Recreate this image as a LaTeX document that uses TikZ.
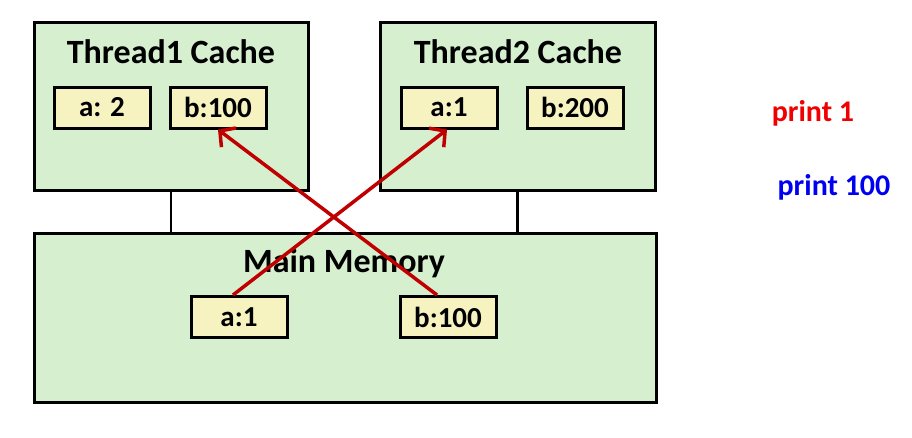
\documentclass[tikz,border=0pt]{standalone}
\usepackage{fontspec}
\setmainfont{Carlito}
\usetikzlibrary{arrows.meta,positioning}
\definecolor{cachegreen}{HTML}{D5EFCF}
\definecolor{cellyellow}{HTML}{F6F3C1}
\definecolor{wirered}{HTML}{C00000}
\definecolor{printred}{HTML}{F00000}
\definecolor{printblue}{HTML}{0000F0}
\tikzset{
  >={Straight Barb[length=11pt,width=24pt]},
  every node/.style={font=\bfseries},
  unit/.style={draw=black,line width=3pt,fill=cachegreen,inner sep=0pt},
  cell/.style={draw=black,line width=3pt,fill=cellyellow,minimum width=96pt,minimum height=41pt,inner sep=0pt,font=\fontsize{29}{34}\selectfont\bfseries},
  title/.style={font=\fontsize{34}{40}\selectfont\bfseries},
  note/.style={font=\fontsize{30}{36}\selectfont\bfseries},
  bus/.style={line width=2.5pt},
  wire/.style={->,wirered,line width=3.5pt},
}
\begin{document}
\begin{tikzpicture}[x=1pt,y=-1pt]
  \useasboundingbox (0,0) rectangle (912,437);
  % caches and memory
  \node[unit,minimum width=274pt,minimum height=168pt] (t1) at (171,106) {};
  \node[unit,minimum width=275pt,minimum height=168pt] (t2) at (517.5,106) {};
  \node[unit,minimum width=622pt,minimum height=169pt] (mem) at (345,317.5) {};
  \node[title] (t1lbl) at (171,52) {Thread1 Cache};
  \node[title] (t2lbl) at (518,52) {Thread2 Cache};
  \node[title] (memlbl) at (344,263) {Main Memory};
  % values
  \node[cell] (t1a) at (102,107.5) {a: 2};
  \node[cell] (t1b) at (218,107.5) {b:100};
  \node[cell] (t2a) at (449,107.5) {a:1};
  \node[cell] (t2b) at (575,107.5) {b:200};
  \node[cell] (mema) at (239,317) {a:1};
  \node[cell] (memb) at (448,317) {b:100};
  % bus
  \draw[bus] (t1.south) -- (t1.south |- mem.north);
  \draw[bus] (t2.south) -- (t2.south |- mem.north);
  % transfers
  \draw[wire] ([xshift=-6pt]mema.north) -- ([xshift=-2pt]t2a.south);
  \draw[wire] ([xshift=-11pt]memb.north) -- (t1b.south);
  % output
  \node[note,text=printred] (p1) at (813,113) {print 1};
  \node[note,text=printblue] (p2) at (834,187) {print 100};
\end{tikzpicture}
\end{document}
